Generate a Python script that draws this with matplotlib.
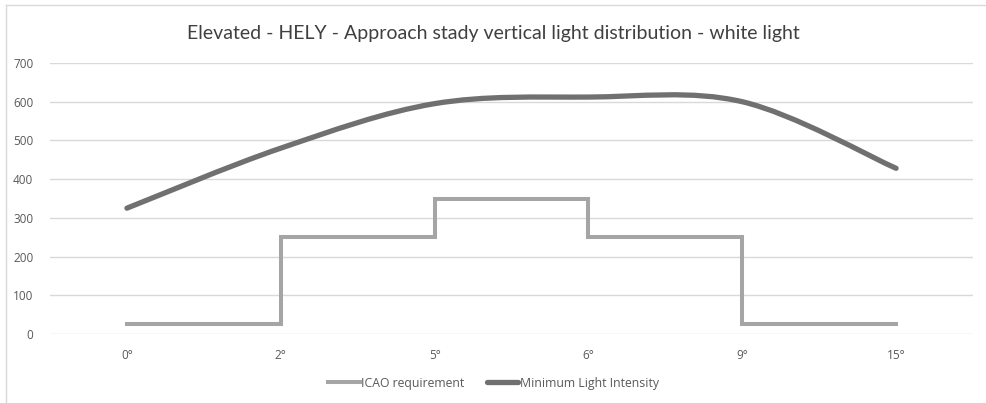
import numpy as np
import matplotlib
matplotlib.use('Agg')
import matplotlib.pyplot as plt
from matplotlib.path import Path
from matplotlib.patches import PathPatch
from matplotlib.lines import Line2D

# 数据
categories = ['0°', '2°', '5°', '6°', '9°', '15°']
icao_requirement = [25, 250, 350, 250, 25, 25]
min_intensity = [325, 480, 595, 612, 600, 428]
y_ticks = [0, 100, 200, 300, 400, 500, 600, 700]

plt.rcParams['font.family'] = ['Open Sans', 'DejaVu Sans']

fig = plt.figure(figsize=(9.87, 4.03), dpi=100)
ax = fig.add_axes([50 / 987, 1 - 334 / 403, 923 / 987, 271 / 403])

x = np.arange(len(categories))

# ICAO 阶梯线
ax.step(x, icao_requirement, where='post', color='#A5A5A5', lw=2.9,
        solid_joinstyle='miter', zorder=3)


# Excel 风格平滑曲线（Catmull-Rom -> 贝塞尔）
def smooth_path(xs, ys):
    pts = np.column_stack([xs, ys]).astype(float)
    n = len(pts)
    verts = [pts[0]]
    codes = [Path.MOVETO]
    for i in range(n - 1):
        p0 = pts[i - 1] if i > 0 else pts[i]
        p1 = pts[i]
        p2 = pts[i + 1]
        p3 = pts[i + 2] if i + 2 < n else pts[i + 1]
        c1 = p1 + (p2 - p0) / 6
        c2 = p2 - (p3 - p1) / 6
        verts += [c1, c2, p2]
        codes += [Path.CURVE4] * 3
    return Path(verts, codes)


ax.add_patch(PathPatch(smooth_path(x, min_intensity), fill=False,
                       edgecolor='#707070', lw=3.8, capstyle='round', zorder=4))

ax.set_xlim(-0.5, len(categories) - 0.5)
ax.set_ylim(0, 700)
ax.set_yticks(y_ticks)
ax.set_xticks(x)
ax.set_xticklabels(categories)
ax.grid(axis='y', color='#D9D9D9', lw=1)
ax.set_axisbelow(True)
for s in ax.spines.values():
    s.set_visible(False)
ax.tick_params(length=0, labelsize=8.5, colors='#595959')
ax.tick_params(axis='y', pad=12)
ax.tick_params(axis='x', pad=11)

fig.text(0.5, 1 - 33 / 403, 'Elevated - HELY - Approach stady vertical light distribution - white light',
         ha='center', va='center', fontsize=14, color='#404040',
         family=['Lato', 'DejaVu Sans'])

handles = [Line2D([], [], color='#A5A5A5', lw=2.9),
           Line2D([], [], color='#707070', lw=3.8, solid_capstyle='round')]
fig.legend(handles, ['ICAO requirement', 'Minimum Light Intensity'],
           loc='center', bbox_to_anchor=(0.5, 1 - 383 / 403), ncol=2,
           frameon=False, fontsize=8.8, labelcolor='#595959',
           handlelength=2.6, handletextpad=0.1, columnspacing=1.8)

# 外框
fig.add_artist(Line2D([6 / 987, 6 / 987], [0, 1 - 5 / 403], color='#D9D9D9', lw=1))
fig.add_artist(Line2D([6 / 987, 985 / 987], [1 - 5 / 403, 1 - 5 / 403], color='#D9D9D9', lw=1))

fig.savefig('out.png', dpi=100, facecolor='white')
